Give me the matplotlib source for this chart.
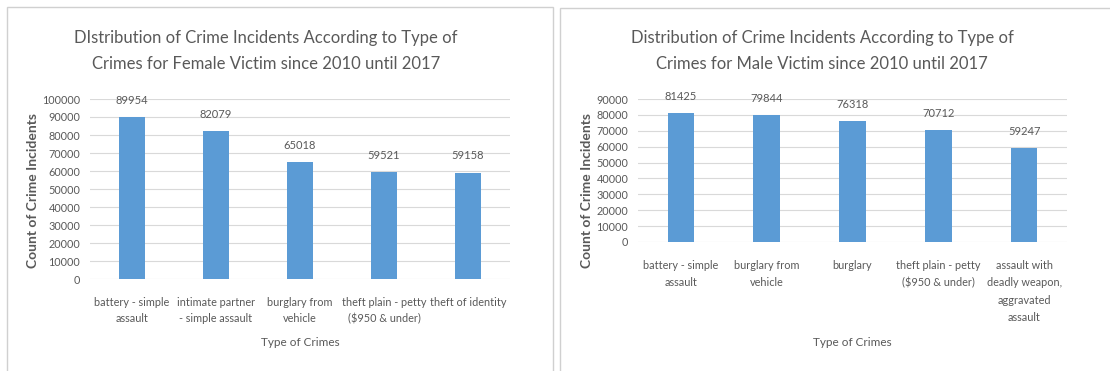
import matplotlib.pyplot as plt
from matplotlib.patches import Rectangle

# --- data ---
female_types = ["battery - simple\nassault", "intimate partner\n- simple assault",
                "burglary from\nvehicle", "theft plain - petty\n($950 & under)",
                "theft of identity"]
female_counts = [89954, 82079, 65018, 59521, 59158]

male_types = ["battery - simple\nassault", "burglary from\nvehicle", "burglary",
              "theft plain - petty\n($950 & under)",
              "assault with\ndeadly weapon,\naggravated\nassault"]
male_counts = [81425, 79844, 76318, 70712, 59247]

female_title = "DIstribution of Crime Incidents According to Type of\nCrimes for Female Victim since 2010 until 2017"
male_title = "Distribution of Crime Incidents According to Type of\nCrimes for Male Victim since 2010 until 2017"

BAR = "#5B9BD5"
TXT = "#595959"
GRID = "#D9D9D9"
FONT = "Lato"

W, H = 1110, 371
fig = plt.figure(figsize=(W / 100, H / 100), dpi=100)
plt.rcParams["font.family"] = [FONT, "DejaVu Sans"]

# panel frames
fig.patches.append(Rectangle((7 / W, -0.05), 546 / W, 1.05 - 7 / H, transform=fig.transFigure,
                             fill=False, edgecolor="#D0D0D0", lw=1))
fig.patches.append(Rectangle((560 / W, -0.05), 0.6, 1.05 - 8 / H, transform=fig.transFigure,
                             fill=False, edgecolor="#D0D0D0", lw=1))


def panel(x0, x1, ytop, ybot, ymax, types, counts, title, title_x, ylab_x, lsp):
    ax = fig.add_axes([x0 / W, (H - ybot) / H, (x1 - x0) / W, (ybot - ytop) / H])
    pos = range(len(types))
    ax.bar(pos, counts, width=0.31, color=BAR, zorder=2)
    ax.set_xlim(-0.5, len(types) - 0.5)
    ax.set_ylim(0, ymax)
    ax.set_yticks(range(0, ymax + 1, 10000))
    ax.yaxis.grid(True, color=GRID, lw=0.8, zorder=0)
    for s in ax.spines.values():
        s.set_visible(False)
    ax.tick_params(length=0, labelsize=7.8, colors=TXT, pad=7)
    ax.set_xticks(list(pos))
    ax.set_xticklabels(types, fontsize=7.8, linespacing=lsp, va="top")
    ax.tick_params(axis="x", pad=13)
    for p, c in zip(pos, counts):
        ax.annotate(str(c), (p, c), xytext=(0, 8), textcoords="offset points",
                    ha="center", va="bottom", fontsize=8, color=TXT)
    fig.text(title_x / W, 1 - 51 / H, title, ha="center", va="center",
             fontsize=12, color=TXT, linespacing=1.75)
    fig.text((x0 + x1) / 2 / W, 1 - 343 / H, "Type of Crimes", ha="center", va="center",
             fontsize=8.5, color=TXT)
    fig.text(ylab_x / W, 1 - 190 / H, "Count of Crime Incidents", rotation=90,
             ha="center", va="center", fontsize=10, color=TXT, fontweight="bold")
    return ax


panel(90, 510, 99, 279, 100000, female_types, female_counts, female_title, 266, 33, 1.55)
panel(638, 1067, 99, 242, 90000, male_types, male_counts, male_title, 822, 587, 1.7)

fig.savefig("out.png", dpi=100)
